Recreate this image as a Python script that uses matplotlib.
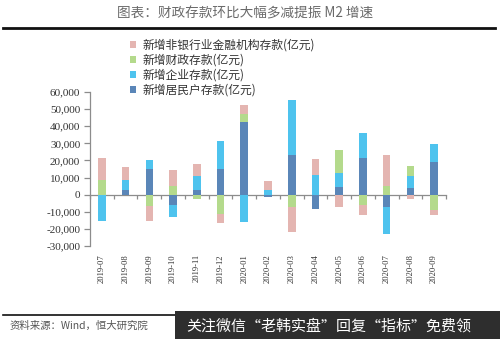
import numpy as np
import matplotlib
matplotlib.use("Agg")
import matplotlib.pyplot as plt
from matplotlib.ticker import FuncFormatter
from matplotlib.patches import Rectangle
from matplotlib.lines import Line2D

plt.rcParams['font.family'] = ['Noto Sans CJK SC', 'DejaVu Sans']

# Monthly new deposits (100 million yuan)
months = ['2019-07', '2019-08', '2019-09', '2019-10', '2019-11', '2019-12',
          '2020-01', '2020-02', '2020-03', '2020-04', '2020-05', '2020-06',
          '2020-07', '2020-08', '2020-09']
household = [0, 2900, 15100, -5800, 2500, 15100, 42300, -1400, 23100,
             -8200, 4700, 21700, -7200, 3700, 19200]
corporate = [-15100, 5800, 5300, -7400, 8600, 16400, -16100, 2900, 32200,
             11300, 7900, 14600, -15700, 7400, 10500]
fiscal = [8700, 0, -6800, 4900, -2500, -11300, 4700, 0, -7200,
          0, 13400, -6200, 5000, 5800, -9100]
nonbank = [12700, 7200, -8700, 9500, 7000, -5200, 5400, 5300, -14700,
           9700, -7000, -5600, 17900, -2700, -2600]

series = [
    ('新增居民户存款(亿元)', household, '#5A86B8'),
    ('新增企业存款(亿元)', corporate, '#4EC3EE'),
    ('新增财政存款(亿元)', fiscal, '#B4DA8C'),
    ('新增非银行业金融机构存款(亿元)', nonbank, '#E4B5B1'),
]

W, H = 500, 339
fig = plt.figure(figsize=(W / 100, H / 100), dpi=100)

ax_l, ax_r, ax_t, ax_b = 90, 446, 92, 246
ax = fig.add_axes([ax_l / W, 1 - ax_b / H, (ax_r - ax_l) / W, (ax_b - ax_t) / H])

x = np.arange(len(months))
pos_base = np.zeros(len(months))
neg_base = np.zeros(len(months))
handles = {}
for name, vals, color in series:
    v = np.array(vals, dtype=float)
    bottoms = np.where(v >= 0, pos_base, neg_base)
    b = ax.bar(x, v, width=0.32, bottom=bottoms, color=color, zorder=3,
               linewidth=0)
    handles[name] = b
    pos_base += np.where(v >= 0, v, 0)
    neg_base += np.where(v < 0, v, 0)

ax.set_xlim(-0.5, len(months) - 0.5)
ax.set_ylim(-30000, 60000)
ax.set_yticks(np.arange(-30000, 60001, 10000))
ax.yaxis.set_major_formatter(FuncFormatter(lambda v, p: f"{v:,.0f}"))

grey = '#8c8c8c'
for s in ['top', 'right', 'bottom']:
    ax.spines[s].set_visible(False)
ax.spines['left'].set_color(grey)
ax.spines['left'].set_linewidth(0.9)
ax.tick_params(axis='y', direction='out', length=4, width=0.9, color=grey,
               pad=3, labelsize=8, labelcolor='#333333')
for lab in ax.get_yticklabels():
    lab.set_family('Liberation Serif')

ax.set_xticks(x)
ax.set_xticklabels(months, rotation=90, family='Liberation Serif',
                   fontsize=6.2, color='#333333')
ax.tick_params(axis='x', length=0, pad=6)

# Zero line with category separators
sec = ax.secondary_xaxis(30000 / 90000)
sec.set_xticks(np.arange(-0.5, len(months), 1.0))
sec.set_xticklabels([])
sec.tick_params(axis='x', direction='out', length=3, width=0.9, color=grey)
sec.spines['bottom'].set_color(grey)
sec.spines['bottom'].set_linewidth(0.9)

# Legend (reverse order)
order = [s[0] for s in series][::-1]
leg = fig.legend([handles[n] for n in order], order,
                 loc='upper left', bbox_to_anchor=(130 / W, 1 - 39 / H),
                 frameon=False, fontsize=8.5, handlelength=0.55,
                 handleheight=0.55, handletextpad=0.55, labelspacing=0.16,
                 borderaxespad=0, borderpad=0)
for t in leg.get_texts():
    t.set_color('#333333')

# Title and rules
fig.text(245 / W, 1 - 13 / H, '图表：财政存款环比大幅多减提振 M2 增速',
         ha='center', va='center', fontsize=9.8, color='#6a6a6a')
fig.add_artist(Line2D([3 / W, 495 / W], [1 - 28 / H, 1 - 28 / H],
                      color='#111111', linewidth=2.0))
fig.add_artist(Line2D([3 / W, 495 / W], [1 - 315 / H, 1 - 315 / H],
                      color='#111111', linewidth=1.2))
fig.text(10 / W, 1 - 326 / H, '资料来源：Wind，恒大研究院', ha='left',
         va='center', fontsize=7.5, color='#555555')

# Banner
fig.add_artist(Rectangle((175 / W, 0), 325 / W, 28 / H,
                         transform=fig.transFigure, facecolor='#2e2e2e',
                         edgecolor='none', zorder=5))
fig.text(186 / W, 1 - 326 / H, '关注微信“老韩实盘”回复“指标”免费领',
         ha='left', va='center', fontsize=10.8, color='white', zorder=6)

fig.savefig('out.png', dpi=100)
